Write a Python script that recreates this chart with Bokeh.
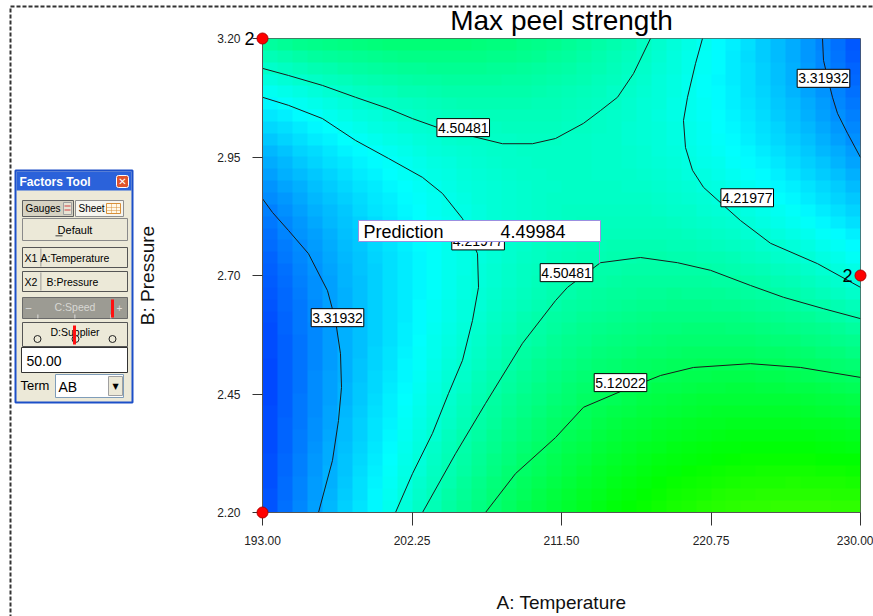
import numpy as np
from bokeh.plotting import figure
from bokeh.models import (Range1d, FixedTicker, PrintfTickFormatter, LinearColorMapper,
                          Label, BoxAnnotation, GridBox)
from bokeh.embed import file_html
from bokeh.resources import INLINE

# ---------------- data ----------------
title_text = "Max peel strength"
x_label = "A: Temperature"
y_label = "B: Pressure"
x_ticks = [193.00, 202.25, 211.50, 220.75, 230.00]
y_ticks = [2.20, 2.45, 2.70, 2.95, 3.20]
x_limits = [193.0, 230.0]
y_limits = [2.20, 3.20]

contour_levels = [3.31932, 4.21977, 4.50481, 5.12022]

# contour lines (Temperature, Pressure)
c1a_T = [193.000, 193.619, 194.609, 195.846, 197.022, 197.517, 197.826, 197.888, 197.702, 197.331, 196.465]
c1a_P = [2.862, 2.833, 2.795, 2.746, 2.668, 2.605, 2.535, 2.464, 2.394, 2.310, 2.200]
c1b_T = [227.649, 227.711, 227.958, 228.268, 228.577, 229.196, 230.000]
c1b_P = [3.200, 3.154, 3.118, 3.076, 3.042, 3.000, 2.949]
c2a_T = [193.000, 194.609, 196.712, 198.754, 200.796, 202.900, 204.137, 205.375, 206.303, 206.365,
         205.993, 205.375, 204.508, 203.518, 202.281, 201.229]
c2a_P = [3.076, 3.059, 3.031, 2.985, 2.947, 2.907, 2.873, 2.820, 2.746, 2.675,
         2.605, 2.521, 2.451, 2.367, 2.282, 2.200]
c2b_T = [220.224, 219.791, 219.296, 219.048, 219.172, 219.605, 220.286, 221.523, 222.575, 224.431, 227.339, 230.000]
c2b_P = [3.200, 3.147, 3.076, 3.027, 2.970, 2.922, 2.886, 2.848, 2.816, 2.768, 2.725, 2.675]
c3a_T = [193.000, 194.609, 196.712, 198.754, 200.796, 202.281, 204.013, 207.850, 209.706, 211.129,
         212.861, 213.913, 214.965, 215.955, 217.007]
c3a_P = [3.137, 3.122, 3.101, 3.076, 3.052, 3.031, 3.010, 2.978, 2.978, 2.989,
         3.021, 3.048, 3.076, 3.126, 3.200]
c3b_T = [202.900, 204.941, 206.798, 209.087, 211.129, 211.871, 213.913, 216.388, 218.677, 220.719,
         223.194, 225.236, 227.711, 230.000]
c3b_P = [2.200, 2.324, 2.430, 2.557, 2.647, 2.675, 2.727, 2.738, 2.727, 2.711,
         2.679, 2.654, 2.630, 2.609]
c4_T = [206.798, 208.654, 211.129, 212.861, 215.274, 217.625, 219.667, 223.194, 226.288, 230.000]
c4_P = [2.200, 2.282, 2.358, 2.422, 2.457, 2.489, 2.506, 2.514, 2.506, 2.485]

# response values estimated from the shading at a few places (Temperature, Pressure, value)
shade_T = [193.0, 204.0, 211.5, 230.0, 193.0, 193.0, 193.0, 193.0, 230.0, 230.0, 230.0, 230.0, 221.0, 211.5, 211.5]
shade_P = [3.20, 3.20, 3.20, 3.20, 2.20, 2.40, 2.60, 2.80, 2.80, 2.55, 2.35, 2.20, 2.20, 2.20, 2.85]
shade_V = [4.60, 4.80, 4.65, 3.10, 3.05, 3.00, 3.05, 3.20, 3.80, 4.80, 5.40, 5.75, 5.60, 5.30, 4.35]

# contour label texts and where they sit (Temperature, Pressure)
clabel_text = ["4.50481", "4.21977", "3.31932", "4.50481", "5.12022", "4.21977", "3.31932"]
clabel_T = [205.42, 206.34, 197.64, 211.81, 215.15, 222.99, 227.71]
clabel_P = [3.012, 2.773, 2.611, 2.706, 2.474, 2.864, 3.116]

design_T = [193.0, 193.0, 230.0]
design_P = [3.20, 2.20, 2.70]
design_count = ["2", "", "2"]

pred_label = "Prediction"
pred_value = "4.49984"

factor_rows = ["A:Temperature", "B:Pressure", "C:Speed", "D:Supplier"]
factor_value = "50.00"
term_value = "AB"

contour_lines = [(c1a_T, c1a_P, contour_levels[0]), (c1b_T, c1b_P, contour_levels[0]),
                 (c2a_T, c2a_P, contour_levels[1]), (c2b_T, c2b_P, contour_levels[1]),
                 (c3a_T, c3a_P, contour_levels[2]), (c3b_T, c3b_P, contour_levels[2]),
                 (c4_T, c4_P, contour_levels[3])]

# ---------------- shading surface: cubic least squares through the read values ----------------
def coded(T, P):
    return (np.asarray(T, float) - 211.5) / 18.5, (np.asarray(P, float) - 2.7) / 0.5

def terms(a, b):
    return np.column_stack([np.ones_like(a), a, b, a * b, a * a, b * b,
                            a * a * b, a * b * b, a ** 3, b ** 3])

rows, vals = [], []
for Ts, Ps, lv in contour_lines:
    a, b = coded(Ts, Ps)
    rows.append(terms(a, b))
    vals.append(np.full(len(a), lv))
a, b = coded(shade_T, shade_P)
wgt = 3.0
rows.append(wgt * terms(a, b))
vals.append(wgt * np.asarray(shade_V, float))
coef = np.linalg.lstsq(np.vstack(rows), np.concatenate(vals), rcond=None)[0]

def surface(T, P):
    a, b = coded(T.ravel(), P.ravel())
    return (terms(a, b) @ coef).reshape(T.shape)

# ---------------- geometry ----------------
W, H = 873, 616
FL, FR, FT, FB = 262, 860, 38, 512   # frame edges in page pixels

def X(px):
    return x_limits[0] + (px - FL) * (x_limits[1] - x_limits[0]) / (FR - FL)

def Y(py):
    return y_limits[1] - (py - FT) * (y_limits[1] - y_limits[0]) / (FB - FT)

FONT = "Liberation Sans"

# ---------------- main chart ----------------
p = figure(width=W, height=H, title=None, output_backend="svg", toolbar_location=None,
           x_range=Range1d(*x_limits), y_range=Range1d(*y_limits),
           min_border_left=FL, min_border_right=W - FR, min_border_top=FT,
           min_border_bottom=H - FB)
p.background_fill_color = "white"
p.border_fill_color = "white"
p.grid.visible = False
p.outline_line_color = "#555555"
p.outline_line_width = 1

stops = np.array([(0, 0, 255), (0, 255, 255), (0, 255, 0), (255, 255, 0), (255, 0, 0)], float)
palette = []
for i in range(256):
    t = i / 255 * 4
    k = min(int(t), 3)
    f = t - k
    c = stops[k] * (1 - f) + stops[k + 1] * f
    palette.append("#%02x%02x%02x" % tuple(int(round(v)) for v in c))
mapper = LinearColorMapper(palette=palette, low=2.6, high=8.4)

nx, ny = 40, 40
tc = x_limits[0] + (np.arange(nx) + 0.5) * (x_limits[1] - x_limits[0]) / nx
pc = y_limits[0] + (np.arange(ny) + 0.5) * (y_limits[1] - y_limits[0]) / ny
TT, PP = np.meshgrid(tc, pc)
zimg = surface(TT, PP)
p.image(image=[zimg], x=x_limits[0], y=y_limits[0], dw=x_limits[1] - x_limits[0],
        dh=y_limits[1] - y_limits[0], color_mapper=mapper)

for Ts, Ps, lv in contour_lines:
    p.line(Ts, Ps, line_color="#1a1a1a", line_width=1)

for ax in (p.xaxis[0], p.yaxis[0]):
    ax.formatter = PrintfTickFormatter(format="%.2f")
    ax.major_tick_in = 0
    ax.minor_tick_line_color = None
    ax.major_tick_line_color = "#333333"
    ax.axis_line_color = "#555555"
    ax.major_label_text_font = FONT
    ax.major_label_text_font_size = "12px"
    ax.major_label_text_color = "#222222"
    ax.axis_label_text_font = FONT
    ax.axis_label_text_font_size = "19px"
    ax.axis_label_text_font_style = "normal"
    ax.axis_label_text_color = "#111111"
p.xaxis.ticker = FixedTicker(ticks=x_ticks, minor_ticks=[])
p.yaxis.ticker = FixedTicker(ticks=y_ticks, minor_ticks=[])
p.xaxis.axis_label = x_label
p.yaxis.axis_label = y_label
p.xaxis.major_tick_out = 13
p.xaxis.major_label_standoff = 10
p.xaxis.axis_label_standoff = 44
p.yaxis.major_tick_out = 10
p.yaxis.major_label_standoff = 12
p.yaxis.axis_label_standoff = 56

for s, tx, py in zip(clabel_text, clabel_T, clabel_P):
    p.add_layout(Label(x=tx, y=py, text=s, text_font=FONT, text_font_size="14px",
                       text_align="center", text_baseline="middle", text_color="black",
                       background_fill_color="white", border_line_color="black",
                       border_line_width=1, padding=(1, 4)))

# ---------------- overlay figure: same data mapping, frame over the whole canvas ----------------
ov = figure(width=W, height=H, title=None, output_backend="svg", toolbar_location=None,
            x_range=Range1d(X(0), X(W)), y_range=Range1d(Y(H), Y(0)),
            min_border_left=0, min_border_right=0, min_border_top=0, min_border_bottom=0,
            x_axis_location=None, y_axis_location=None)
ov.grid.visible = False
ov.outline_line_color = None
ov.background_fill_color = None
ov.border_fill_color = None
for fig in (p, ov):
    try:
        fig.frame_align = False
    except AttributeError:
        pass


def box(fig, x0, y0, x1, y1, fill="#ECE9D8", line="#7F7F7F", lw=1, radius=0, dash="solid"):
    fig.add_layout(BoxAnnotation(left=X(x0), right=X(x1), top=Y(y0), bottom=Y(y1),
                                 fill_color=fill, fill_alpha=1.0 if fill else 0.0,
                                 line_color=line, line_width=lw, line_alpha=1.0 if line else 0.0,
                                 border_radius=radius, line_dash=dash))


def txt(fig, px, py, s, size=11, color="black", align="left", bold=False, font=FONT):
    fig.add_layout(Label(x=X(px), y=Y(py), text=s, text_font=font, text_font_size=f"{size}px",
                         text_color=color, text_align=align, text_baseline="middle",
                         text_font_style="bold" if bold else "normal"))


# prediction flag
box(p, 358, 220, 600, 241, fill="white", line="#9B8FE0")
box(p, 598.5, 241, 599.5, 263, fill="#9B8FE0", line=None)
txt(p, 363, 231, pred_label, size=18)
txt(p, 500, 231, pred_value, size=18)

# title
txt(ov, (FL + FR) / 2, 20, title_text, size=28, align="center")

# design points with replicate counts
ov.scatter(design_T, design_P, size=11, fill_color="#FF0000", line_color="#B00000", line_width=1)
for tx, py, n in zip(design_T, design_P, design_count):
    if n:
        ov.add_layout(Label(x=tx, y=py, text=n, text_font=FONT, text_font_size="18px",
                            text_align="right", text_baseline="middle", text_color="black",
                            x_offset=-8))

# dashed page frame
box(ov, 10, 6, 2000, 2000, fill=None, line="#333333", lw=2, dash="4 2")

# Factors Tool panel
box(ov, 15, 170, 132, 402, fill="#ECE9D8", line="#1C4FC8", lw=2)
box(ov, 16, 171, 131, 190, fill="#2B62DA", line=None)
txt(ov, 19, 181, "Factors Tool", size=12, color="white", bold=True)
box(ov, 116, 175, 128, 187, fill="#E0542C", line="white", radius=2)
txt(ov, 122, 181, "✕", size=10, color="white", align="center", bold=True, font="DejaVu Sans")
box(ov, 22, 200, 73, 216, fill="#D6D2C2", line="#5F5F5F")
txt(ov, 25, 208, "Gauges", size=10)
box(ov, 63, 202, 71, 214, fill="#E8E4D4", line="#A0A0A0")
box(ov, 64, 205, 70, 206, fill="#D04040", line=None)
box(ov, 64, 209, 70, 210, fill="#D04040", line=None)
box(ov, 75, 200, 123, 216, fill="#F6F5EF", line="#8F8F8F")
txt(ov, 78, 208, "Sheet", size=10)
box(ov, 106, 203, 120, 213, fill="#FFF8E8", line="#D8903A")
box(ov, 106, 206.5, 120, 207, fill="#D8903A", line=None)
box(ov, 106, 210, 120, 210.5, fill="#D8903A", line=None)
box(ov, 111, 203, 111.5, 213, fill="#D8903A", line=None)
box(ov, 115.5, 203, 116, 213, fill="#D8903A", line=None)
box(ov, 22, 218, 127, 240, fill="#ECE9D8", line="#8A8A8A")
txt(ov, 74.5, 229, "Default", size=11, align="center")
box(ov, 55, 235, 62, 235.8, fill="black", line=None)
box(ov, 22, 247, 127, 267, fill="#ECE9D8", line="#555555")
box(ov, 40, 248, 40.8, 266, fill="#888888", line=None)
txt(ov, 24, 257, "X1", size=10.5)
txt(ov, 40, 257, factor_rows[0], size=10.5)
box(ov, 22, 271, 127, 291, fill="#ECE9D8", line="#555555")
box(ov, 40, 272, 40.8, 290, fill="#888888", line=None)
txt(ov, 24, 281, "X2", size=10.5)
txt(ov, 46, 281, factor_rows[1], size=10.5)
box(ov, 22, 297, 127, 318, fill="#9C9B93", line="#6A6A6A")
txt(ov, 74.5, 306, factor_rows[2], size=10.5, color="#D8D8D4", align="center")
txt(ov, 28, 307, "–", size=10, color="#E0E0E0", align="center")
txt(ov, 119, 307, "+", size=10, color="#E0E0E0", align="center")
for tx in (37, 74, 110):
    box(ov, tx, 314, tx + 0.8, 318, fill="#F0F0F0", line=None)
box(ov, 110.5, 299, 113.5, 317, fill="#FF1010", line=None)
box(ov, 22, 322, 127, 346, fill="#ECE9D8", line="#555555")
txt(ov, 74.5, 331, factor_rows[3], size=10.5, align="center")
for tx in (37, 75, 112):
    box(ov, tx - 3.5, 335, tx + 3.5, 342, fill="#ECE9D8", line="#222222", radius=4)
box(ov, 72.5, 325, 75.5, 344, fill="#FF1010", line=None)
box(ov, 21, 347, 127, 372, fill="white", line="#333333")
txt(ov, 26, 360, factor_value, size=14)
txt(ov, 20, 385, "Term", size=13)
box(ov, 55, 374, 123, 397, fill="white", line="#7F9DB9")
txt(ov, 58, 386, term_value, size=14)
box(ov, 108, 376, 122, 395, fill="#ECE9D8", line="#A0A0A0")
txt(ov, 115, 386, "▼", size=8, align="center", font="DejaVu Sans")

layout = GridBox(children=[(p, 0, 0), (ov, 0, 0)])
open("out.html", "w").write(file_html(layout, INLINE))
